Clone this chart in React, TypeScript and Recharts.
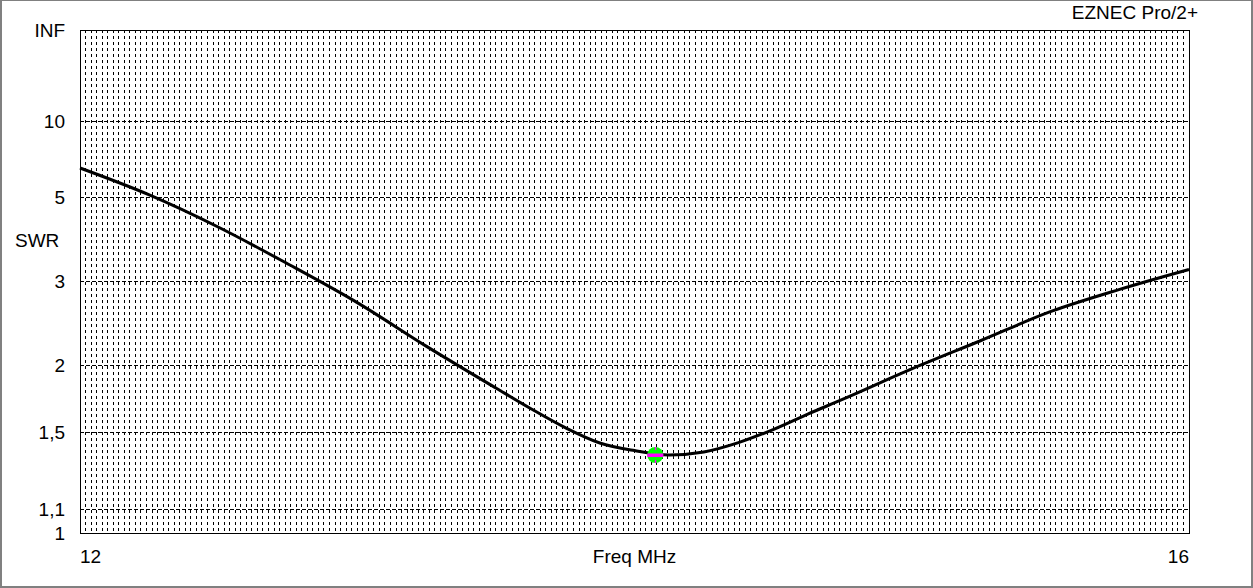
import {
  LineChart, Line, XAxis, YAxis, CartesianGrid, ReferenceArea, ReferenceDot,
} from 'recharts'

// frequency sweep (MHz) and SWR
const FREQ_MHZ = [
  12, 12.25, 12.5, 12.75, 13, 13.25, 13.5, 13.625, 13.75, 13.875, 14,
  14.125, 14.25, 14.375, 14.5, 14.625, 14.75, 15, 15.25, 15.5, 15.75, 16,
]
const SWR_VALUES = [
  6.29, 5.1, 4.1, 3.3, 2.69, 2.18, 1.81, 1.658, 1.53, 1.436, 1.392,
  1.367, 1.384, 1.438, 1.518, 1.619, 1.723, 1.968, 2.24, 2.571, 2.878, 3.2,
]

const SWR_TICKS = [1, 1.1, 1.5, 2, 3, 5, 10, Infinity]
const SWR_TICK_LABELS = ['1', '1,1', '1,5', '2', '3', '5', '10', 'INF']
const FREQ_TICKS = [12, 16]

const MARKER_FREQ = 14.075
const MARKER_SWR = 1.367

const FONT = '"Liberation Sans", Arial, sans-serif'

// EZNEC scales SWR linearly in reflection coefficient
const toRho = (swr: number) => (swr === Infinity ? 1 : (swr - 1) / (swr + 1))

const data = FREQ_MHZ.map((freq, i) => ({ freq, rho: toRho(SWR_VALUES[i]) }))
const yTicks = SWR_TICKS.map(toRho)

// fine vertical grid every 0.02 MHz
const gridTicks: number[] = []
for (let i = 0; i <= 200; i++) {
  gridTicks.push(Math.round((FREQ_TICKS[0] + i * 0.02) * 100) / 100)
}

const yLabel = (v: number) => {
  const i = yTicks.findIndex(t => Math.abs(t - v) < 1e-6)
  return i >= 0 ? SWR_TICK_LABELS[i] : ''
}

const FreqTick = (props: any) => {
  const { x, y, payload } = props
  const v = payload.value
  if (v !== FREQ_TICKS[0] && v !== FREQ_TICKS[1]) return <g />
  return (
    <text x={x} y={y + 22} textAnchor={v === FREQ_TICKS[0] ? 'start' : 'end'}
      fontSize={19} fill="#000" fontFamily={FONT}>
      {v}
    </text>
  )
}

const Marker = (props: any) => {
  const { cx, cy } = props
  return (
    <g>
      <circle cx={cx} cy={cy} r={8} fill="#00ff00" />
      <rect x={cx - 8} y={cy - 1.5} width={16} height={3.5} fill="#ff00ff" />
      <rect x={cx - 0.5} y={cy - 8} width={1.5} height={3} fill="#ff00ff" />
      <rect x={cx - 0.5} y={cy + 5} width={1.5} height={3} fill="#ff00ff" />
    </g>
  )
}

export default function App() {
  return (
    <div style={{ position: 'absolute', left: 0, top: 0, width: 1253, height: 588, background: '#fff', fontFamily: FONT }}>
      <LineChart width={1253} height={588} data={data}
        margin={{ top: 30, right: 64, bottom: 0, left: 0 }}
        style={{ fontFamily: FONT }}>
        <CartesianGrid horizontal={false} stroke="#000" strokeDasharray="3 3" shapeRendering="crispEdges" />
        <CartesianGrid vertical={false} stroke="#000" strokeDasharray="4 2" shapeRendering="crispEdges" />
        <XAxis dataKey="freq" type="number" domain={[12, 16]} ticks={gridTicks} interval={0}
          height={55} tickLine={false} axisLine={false} tick={<FreqTick />}
          label={{
            content: (p: any) => (
              <text x={p.viewBox.x + p.viewBox.width / 2} y={563} textAnchor="middle"
                fontSize={19} fill="#000" fontFamily={FONT}>Freq MHz</text>
            ),
          }} />
        <YAxis type="number" domain={[0, 1]} ticks={yTicks} interval={0} width={80}
          tickLine={false} axisLine={false} tickMargin={9} tickFormatter={yLabel}
          tick={{ fill: '#000', fontSize: 19 }}
          label={{
            content: () => (
              <text x={15} y={247} fontSize={19} fill="#000" fontFamily={FONT}>SWR</text>
            ),
          }} />
        <ReferenceArea x1={12} x2={16} y1={0} y2={1} fill="none" stroke="#000"
          strokeWidth={1} shapeRendering="crispEdges" />
        <Line dataKey="rho" type="monotone" stroke="#000" strokeWidth={3} dot={false}
          isAnimationActive={false} />
        <ReferenceDot x={MARKER_FREQ} y={toRho(MARKER_SWR)} r={8} shape={<Marker />} />
      </LineChart>
      <div style={{ position: 'absolute', right: 55, top: 3, fontSize: 19, lineHeight: 1, color: '#000' }}>
        EZNEC Pro/2+
      </div>
      <div style={{
        position: 'absolute', left: 0, top: 0, width: 1253, height: 588, boxSizing: 'border-box',
        borderStyle: 'solid', borderColor: '#808080', borderWidth: '1px 2px 2px 2px', pointerEvents: 'none',
      }} />
    </div>
  )
}
